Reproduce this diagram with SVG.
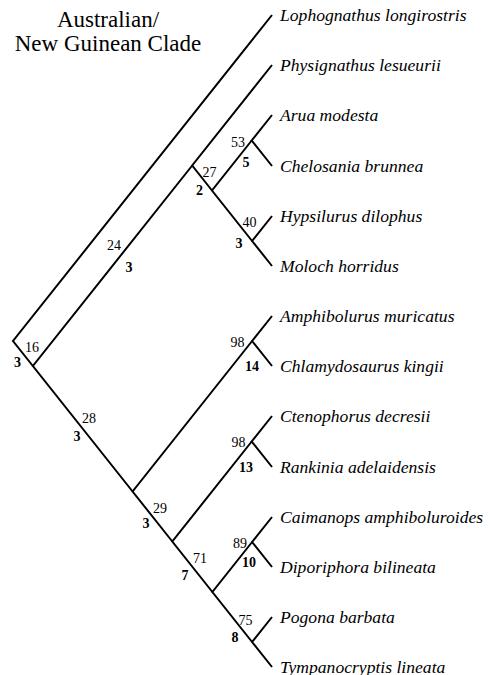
<svg xmlns="http://www.w3.org/2000/svg" width="495" height="675" viewBox="0 0 495 675">
  <style>
    .br { fill: none; stroke: #000; stroke-width: 2; stroke-linejoin: miter; }
    .taxon { font-family: "Liberation Serif", "Times New Roman", serif; font-style: italic; font-size: 17.6px; fill: #000; }
    .title { font-family: "Liberation Serif", "Times New Roman", serif; font-size: 23px; fill: #000; text-anchor: middle; }
    .bs { font-family: "Liberation Serif", "Times New Roman", serif; font-size: 14px; fill: #000; text-anchor: middle; }
    .bd { font-family: "Liberation Serif", "Times New Roman", serif; font-size: 14px; font-weight: bold; fill: #000; text-anchor: middle; }
  </style>
  <rect width="495" height="675" fill="#fff"/>

  <g id="title">
    <text class="title" x="108" y="27">Australian/</text>
    <text class="title" x="108" y="51">New Guinean Clade</text>
  </g>

  <!-- branches: one polyline per internal node (upper child, node, lower child) -->
  <g id="connectors">
    <polyline class="br" points="272,15 13,341 32.9,366"/>
    <polyline class="br" points="192.2,165.5 32.9,366 132.6,491.5"/>
    <polyline class="br" points="272,65 192.2,165.5 212,190.5"/>
    <polyline class="br" points="251.7,140.5 212,190.5 252.1,241"/>
    <polyline class="br" points="272,115 251.7,140.5 272,166"/>
    <polyline class="br" points="272,216 252.1,241 272,266"/>
    <polyline class="br" points="252.1,341 132.6,491.5 172.3,541.5"/>
    <polyline class="br" points="272,316 252.1,341 272,366"/>
    <polyline class="br" points="251.7,441.5 172.3,541.5 212.4,592"/>
    <polyline class="br" points="272,416 251.7,441.5 272,467"/>
    <polyline class="br" points="252.1,542 212.4,592 252.1,642"/>
    <polyline class="br" points="272,517 252.1,542 272,567"/>
    <polyline class="br" points="272,617 252.1,642 272,667"/>
  </g>

  <!-- terminal taxa -->
  <g id="t-lophognathus"><text class="taxon" x="280" y="21">Lophognathus longirostris</text></g>
  <g id="t-physignathus"><text class="taxon" x="280" y="71">Physignathus lesueurii</text></g>
  <g id="t-arua"><text class="taxon" x="280" y="121">Arua modesta</text></g>
  <g id="t-chelosania"><text class="taxon" x="280" y="171.5">Chelosania brunnea</text></g>
  <g id="t-hypsilurus"><text class="taxon" x="280" y="221.5">Hypsilurus dilophus</text></g>
  <g id="t-moloch"><text class="taxon" x="280" y="271.5">Moloch horridus</text></g>
  <g id="t-amphibolurus"><text class="taxon" x="280" y="321.5">Amphibolurus muricatus</text></g>
  <g id="t-chlamydosaurus"><text class="taxon" x="280" y="371.5">Chlamydosaurus kingii</text></g>
  <g id="t-ctenophorus"><text class="taxon" x="280" y="421.5">Ctenophorus decresii</text></g>
  <g id="t-rankinia"><text class="taxon" x="280" y="472.5">Rankinia adelaidensis</text></g>
  <g id="t-caimanops"><text class="taxon" x="280" y="522.5">Caimanops amphiboluroides</text></g>
  <g id="t-diporiphora"><text class="taxon" x="280" y="572.5">Diporiphora bilineata</text></g>
  <g id="t-pogona"><text class="taxon" x="280" y="622.5">Pogona barbata</text></g>
  <g id="t-tympanocryptis"><text class="taxon" x="280" y="672.5">Tympanocryptis lineata</text></g>

  <!-- clade support: bootstrap (regular) and decay index (bold) -->
  <g id="n-root"><text class="bs" x="32" y="351.5">16</text><text class="bd" x="17.5" y="367">3</text></g>
  <g id="n-physignathus-clade"><text class="bs" x="114" y="250">24</text><text class="bd" x="129" y="271.5">3</text></g>
  <g id="n-arua-moloch"><text class="bs" x="209.5" y="176.5">27</text><text class="bd" x="199.5" y="195">2</text></g>
  <g id="n-arua-chelosania"><text class="bs" x="238" y="146.5">53</text><text class="bd" x="246" y="166.5">5</text></g>
  <g id="n-hypsilurus-moloch"><text class="bs" x="249.5" y="226.5">40</text><text class="bd" x="239" y="247.5">3</text></g>
  <g id="n-amphibolurus-clade"><text class="bs" x="89" y="423">28</text><text class="bd" x="77" y="440.5">3</text></g>
  <g id="n-amphibolurus-chlamydosaurus"><text class="bs" x="237.5" y="347">98</text><text class="bd" x="252" y="371">14</text></g>
  <g id="n-ctenophorus-clade"><text class="bs" x="160" y="513">29</text><text class="bd" x="146" y="528">3</text></g>
  <g id="n-ctenophorus-rankinia"><text class="bs" x="238.5" y="446.5">98</text><text class="bd" x="246" y="472">13</text></g>
  <g id="n-caimanops-clade"><text class="bs" x="200" y="562.5">71</text><text class="bd" x="185" y="580">7</text></g>
  <g id="n-caimanops-diporiphora"><text class="bs" x="240" y="547.5">89</text><text class="bd" x="249" y="566.5">10</text></g>
  <g id="n-pogona-tympanocryptis"><text class="bs" x="245.5" y="625">75</text><text class="bd" x="235" y="641.5">8</text></g>
</svg>
